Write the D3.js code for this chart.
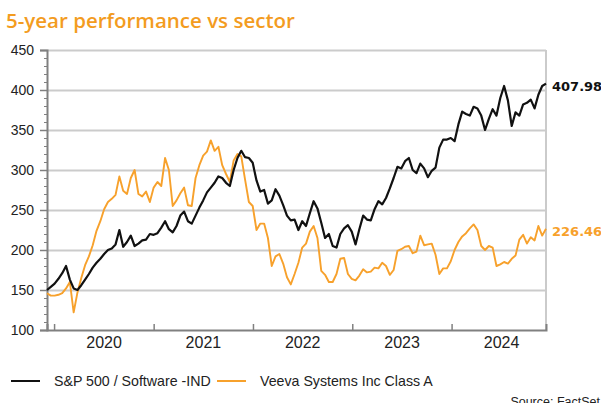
<!DOCTYPE html>
<html>
<head>
<meta charset="utf-8">
<script src="https://cdn.jsdelivr.net/npm/d3@7"></script>
<style>
  body { margin: 0; background: #fff; }
  .title { font-family: "Open Sans", sans-serif; font-size: 20.5px; font-weight: 600; fill: #f39c1f; }
  .yText { font-family: "Liberation Sans", Arial, sans-serif; font-size: 14px; fill: #222; }
  .xText { font-family: "Liberation Sans", Arial, sans-serif; font-size: 16px; fill: #222; }
  .legendText { font-family: "Liberation Sans", Arial, sans-serif; font-size: 14.2px; fill: #222; }
  .sourceText { font-family: "Liberation Sans", Arial, sans-serif; font-size: 12.5px; fill: #222; }
  .endText { font-family: "DejaVu Sans", sans-serif; font-size: 13px; font-weight: bold; }
</style>
</head>
<body>
<div id="chart"></div>
<script>
// series: one value every 14 days, starting 6 Dec 2019
const startDate = new Date(2019, 11, 6);
const stepDays = 14;

const sectorValues = [
  150, 154, 158, 164, 171, 180, 163, 152, 150, 156, 163, 170, 178, 184, 189, 195, 200, 202, 207, 225,
  204, 210, 218, 205, 208, 212, 213, 220, 219, 221, 228, 236, 226, 222, 230, 243, 248, 236, 233, 243,
  253, 262, 272, 278, 284, 292, 290, 284, 280, 300, 315, 324, 316, 315, 309, 287, 273, 275, 258, 262,
  276, 268, 256, 243, 237, 238, 225, 236, 230, 246, 261, 252, 234, 215, 220, 205, 203, 220, 227, 231,
  223, 207, 226, 243, 238, 237, 251, 261, 257, 265, 277, 290, 304, 302, 311, 315, 300, 296, 308, 302,
  291, 299, 303, 328, 338, 338, 340, 336, 357, 373, 370, 368, 379, 377, 368, 350, 364, 376, 368, 390,
  405, 387, 355, 372, 368, 382, 384, 388, 377, 394, 405, 407.98
];

const veevaValues = [
  146, 143, 143, 144, 146, 152, 160, 122, 147, 165, 181, 192, 206, 224, 236, 251, 260, 264, 269, 292,
  274, 270, 290, 300, 270, 267, 273, 260, 278, 285, 280, 315, 300, 255, 262, 271, 278, 256, 255, 290,
  306, 318, 323, 337, 324, 329, 306, 295, 285, 312, 320, 317, 288, 260, 255, 225, 233, 233, 215, 180,
  192, 195, 183, 166, 157, 170, 184, 203, 208, 223, 230, 215, 174, 169, 160, 160, 170, 189, 190, 170,
  164, 162, 168, 176, 172, 173, 178, 177, 184, 180, 169, 175, 199, 201, 204, 205, 196, 198, 218, 206,
  207, 208, 194, 170, 177, 177, 186, 200, 210, 217, 221, 227, 232, 225, 205, 200, 205, 203, 180, 182,
  185, 183, 189, 193, 213, 219, 208, 216, 212, 230, 218, 226.46
];

const seriesNames = ["S&P 500 / Software -IND", "Veeva Systems Inc Class A"];
const seriesColors = ["#111111", "#f7a12c"];
const yTicks = [100, 150, 200, 250, 300, 350, 400, 450];
const yearLabels = [2020, 2021, 2022, 2023, 2024];

let margin = {top: 50, right: 55, bottom: 73, left: 47},
    width = 601 - margin.left - margin.right,
    height = 403 - margin.top - margin.bottom;

let svg0 = d3.select("#chart")
    .append("svg")
    .attr("width", 601)
    .attr("height", 403);

svg0.append("text")
    .attr("class", "title")
    .attr("x", 6)
    .attr("y", 28)
    .text("5-year performance vs sector");

let svg = svg0.append("g")
    .attr("transform", `translate(${margin.left}, ${margin.top})`);

let dates = sectorValues.map((v, i) => d3.timeDay.offset(startDate, i * stepDays));

let x = d3.scaleTime()
    .domain([dates[0], dates[dates.length - 1]])
    .range([0, width]);

let y = d3.scaleLinear()
    .domain([100, 450])
    .range([height, 0]);

// horizontal grid
svg.append("g")
    .call(d3.axisLeft(y).tickValues(yTicks.slice(1)).tickSize(-width).tickFormat(""))
    .call(g => g.select(".domain").remove())
    .call(g => g.selectAll("line").attr("stroke", "#cbcbcb").attr("stroke-width", 2));

// right border
svg.append("line")
    .attr("x1", width).attr("x2", width)
    .attr("y1", 0).attr("y2", height)
    .attr("stroke", "#cbcbcb")
    .attr("stroke-width", 2);

// minor ticks on y axis
svg.append("g")
    .call(d3.axisLeft(y).ticks(35).tickSize(3).tickFormat(""))
    .call(g => g.select(".domain").remove())
    .call(g => g.selectAll("line").attr("stroke", "#808080").attr("stroke-width", 1));

// y axis
svg.append("g")
    .call(d3.axisLeft(y).tickValues(yTicks).tickSize(7).tickPadding(6))
    .call(g => g.select(".domain").attr("stroke", "#808080").attr("stroke-width", 2))
    .call(g => g.selectAll(".tick line").attr("stroke", "#808080").attr("stroke-width", 1.5))
    .call(g => g.selectAll("text").attr("class", "yText").attr("fill", null).attr("font-family", null).attr("font-size", null));

// lines
let line = d3.line()
    .x((d, i) => x(dates[i]))
    .y(d => y(d));

[veevaValues, sectorValues].forEach((vals, k) => {
    let idx = k == 0 ? 1 : 0;
    svg.append("path")
        .datum(vals)
        .attr("fill", "none")
        .attr("stroke", seriesColors[idx])
        .attr("stroke-width", idx == 0 ? 2.2 : 1.9)
        .attr("stroke-linejoin", "round")
        .attr("d", line);
});

// x axis with year ticks pointing up
svg.append("g")
    .attr("transform", `translate(0, ${height})`)
    .call(d3.axisBottom(x).tickValues(yearLabels.map(yr => new Date(yr, 0, 1))).tickSize(-6).tickFormat(""))
    .call(g => g.select(".domain").attr("stroke", "#808080").attr("stroke-width", 2))
    .call(g => g.selectAll(".tick line").attr("stroke", "#808080").attr("stroke-width", 1.5));

// year labels at mid-year
svg.append("g")
    .attr("transform", `translate(0, ${height})`)
    .call(d3.axisBottom(x).tickValues(yearLabels.map(yr => new Date(yr, 6, 1))).tickSize(0).tickPadding(7).tickFormat(d3.timeFormat("%Y")))
    .call(g => g.select(".domain").remove())
    .call(g => g.selectAll("text").attr("class", "xText").attr("fill", null).attr("font-family", null).attr("font-size", null));

// end labels
[sectorValues, veevaValues].forEach((vals, k) => {
    let last = vals[vals.length - 1];
    svg.append("text")
        .attr("class", "endText")
        .attr("x", width + 6)
        .attr("y", y(last) + 3)
        .attr("dominant-baseline", "central")
        .attr("fill", k == 0 ? "#111111" : "#f7a12c")
        .text(d3.format(".2f")(last));
});

// legend
let legend = svg0.append("g").attr("transform", "translate(0, 381)");
let legendX = [11, 217];
seriesNames.forEach((name, i) => {
    legend.append("line")
        .attr("x1", legendX[i]).attr("x2", legendX[i] + 29)
        .attr("y1", 0).attr("y2", 0)
        .attr("stroke", seriesColors[i])
        .attr("stroke-width", 2);
    legend.append("text")
        .attr("class", "legendText")
        .attr("x", legendX[i] + 43)
        .attr("y", 0)
        .attr("dominant-baseline", "central")
        .text(name);
});

svg0.append("text")
    .attr("class", "sourceText")
    .attr("text-anchor", "end")
    .attr("x", 600)
    .attr("y", 406)
    .text("Source: FactSet");
</script>
</body>
</html>
